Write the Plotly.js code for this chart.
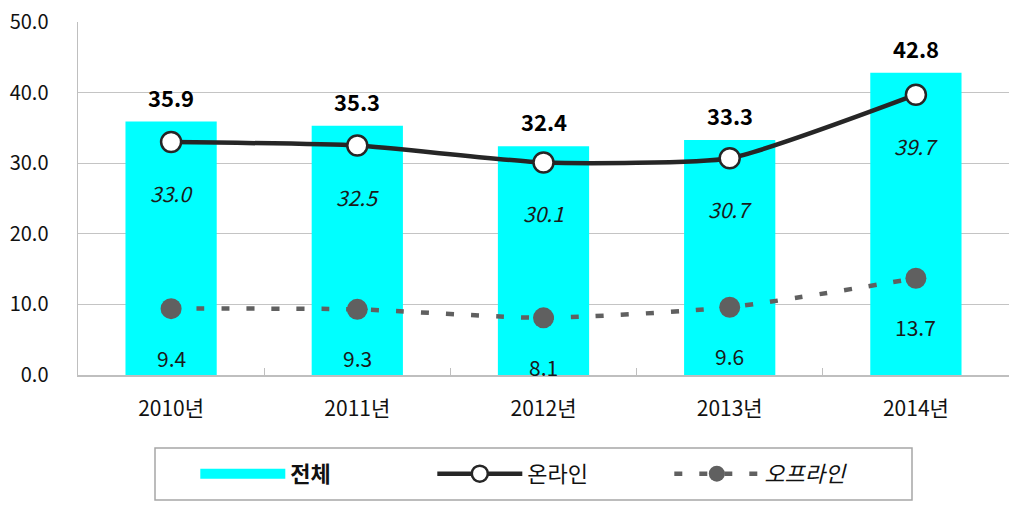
<!DOCTYPE html>
<html><head><meta charset="utf-8">
<script src="https://cdn.plot.ly/plotly-3.0.1.min.js"></script>
<style>html,body{margin:0;padding:0;background:#fff;}#chart{width:1024px;height:510px;}</style>
</head><body><div id="chart"></div>
<script>
const categories = ['2010년','2011년','2012년','2013년','2014년'];
const totalValues = [35.9, 35.3, 32.4, 33.3, 42.8];
const onlineValues = [33.0, 32.5, 30.1, 30.7, 39.7];
const offlineValues = [9.4, 9.3, 8.1, 9.6, 13.7];
const seriesNames = ['전체','온라인','오프라인'];

const FONT = '"Noto Sans CJK KR", "Noto Sans", sans-serif';

const traces = [
  {type:'bar', x:categories, y:totalValues, marker:{color:'#00FFFF'}, width:0.49, showlegend:false, hoverinfo:'y'},
  {type:'scatter', mode:'lines', x:categories, y:totalValues.map(()=>null), name:'<b>'+seriesNames[0]+'</b>',
   line:{color:'#00FFFF', width:14}, showlegend:true},
  {type:'scatter', mode:'lines+markers', x:categories, y:onlineValues, name:seriesNames[1],
   line:{color:'#262626', width:4.5, shape:'spline', smoothing:0.5},
   marker:{symbol:'circle', size:20, color:'#ffffff', line:{color:'#262626', width:2.5}}},
  {type:'scatter', mode:'lines+markers', x:categories, y:offlineValues, name:'<i>'+seriesNames[2]+'</i>',
   line:{color:'#606060', width:4.5, dash:'8px,17px', shape:'spline', smoothing:0.6},
   marker:{symbol:'circle', size:21, color:'#606060', line:{width:0}}}
];

const annotations = [];
categories.forEach((c,i)=>{
  annotations.push({x:c, y:totalValues[i], text:'<b>'+totalValues[i].toFixed(1)+'</b>', showarrow:false,
    yshift:25, font:{family:FONT, size:22, color:'#000'}});
  annotations.push({x:c, y:onlineValues[i], text:'<i>'+onlineValues[i].toFixed(1)+'</i>', showarrow:false,
    yshift:-51, font:{family:FONT, size:21, color:'#1a1a1a'}});
  annotations.push({x:c, y:offlineValues[i], text:offlineValues[i].toFixed(1), showarrow:false,
    yshift:-49, font:{family:FONT, size:21, color:'#1a1a1a'}});
});

const layout = {
  width:1024, height:510,
  margin:{l:78, r:15, t:22, b:135},
  paper_bgcolor:'#fff', plot_bgcolor:'#fff',
  font:{family:FONT, color:'#111'},
  xaxis:{type:'category', showgrid:false, showline:true, linecolor:'#bfbfbf', linewidth:1.5,
    ticks:'inside', tickson:'boundaries', ticklen:7, tickcolor:'#bfbfbf',
    tickfont:{family:FONT, size:21, color:'#111'}, ticklabelstandoff:14, fixedrange:true},
  yaxis:{range:[0,50], dtick:10, tickformat:'.1f', showgrid:true, gridcolor:'#c4c4c4', gridwidth:1.2,
    showline:true, linecolor:'#bfbfbf', linewidth:1.5, zeroline:false, ticks:'',
    tickfont:{family:FONT, size:20, color:'#111'}, ticklabelstandoff:24, fixedrange:true},
  showlegend:true,
  legend:{orientation:'h', x:0.126, xanchor:'left', y:-0.28, yanchor:'middle',
    font:{family:FONT, size:22, color:'#111'}, itemwidth:85, entrywidth:137, bgcolor:'rgba(0,0,0,0)', borderwidth:0,
    traceorder:'normal'},
  shapes:[{type:'rect', xref:'paper', yref:'paper', x0:(155-78)/931, x1:(912-78)/931,
    y0:(375-500)/353, y1:(375-448)/353, line:{color:'#a6a6a6', width:1.5}, fillcolor:'rgba(0,0,0,0)', layer:'below'}],
  annotations:annotations
};

Plotly.newPlot('chart', traces, layout, {displayModeBar:false, staticPlot:true});
</script></body></html>
